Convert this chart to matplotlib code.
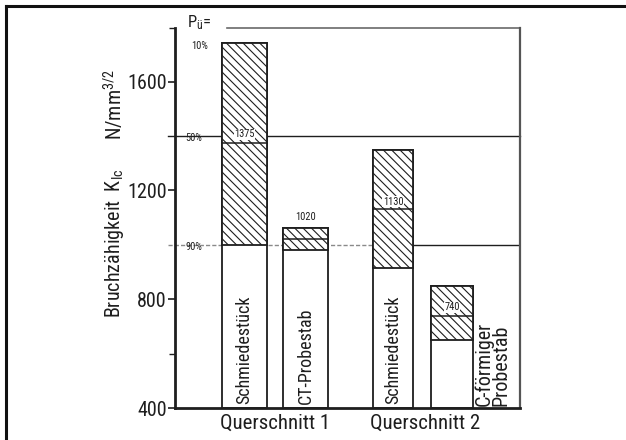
import numpy as np
import matplotlib
matplotlib.use("Agg")
import matplotlib.pyplot as plt
from matplotlib import font_manager
from matplotlib.lines import Line2D

# data (K_Ic in N/mm^3/2)
bar_names = ["Schmiedestück", "CT-Probestab", "Schmiedestück", "C-förmiger\nProbestab"]
x_pos = [2.01, 3.78, 6.32, 8.03]
widths = [1.30, 1.30, 1.16, 1.22]
k_90 = [1000, 980, 915, 650]    # lower end of the hatched band
k_50 = [1375, 1020, 1130, 740]  # divider / printed value
k_10 = [1740, 1060, 1350, 850]  # bar top
median_labels = ["1375", "1020", "1130", "740"]
group_names = ["Querschnitt 1", "Querschnitt 2"]
group_x = [2.9, 7.25]
pct_levels = [1740, 1400, 1000]
pct_labels = ["10%", "50%", "90%"]

names = {f.name for f in font_manager.fontManager.ttflist}
fam = "DejaVu Sans"
for cand in ["Liberation Sans Narrow", "DejaVu Sans Condensed", "Roboto Condensed", "Liberation Sans"]:
    if cand in names:
        fam = cand
        break
plt.rcParams["font.family"] = [fam, "DejaVu Sans"]
plt.rcParams["hatch.linewidth"] = 0.8
plt.rcParams["mathtext.fontset"] = "custom"
plt.rcParams["mathtext.rm"] = fam
plt.rcParams["mathtext.it"] = fam

ink = "#1e1e1e"

fig = plt.figure(figsize=(6.26, 4.40), dpi=100)
ax = fig.add_axes([175 / 626, 1 - 408 / 440, 345 / 626, 379.5 / 440])
ax.set_xlim(0, 10)
ax.set_ylim(400, 1795)

# outer frame (only top and left edges visible)
fig.add_artist(Line2D([6 / 626, 1], [1 - 6.5 / 440, 1 - 6.5 / 440], color="#111111", lw=2.2, transform=fig.transFigure))
fig.add_artist(Line2D([6 / 626, 6 / 626], [0, 1 - 6.5 / 440], color="#111111", lw=2.2, transform=fig.transFigure))

# probability lines
ax.plot([-0.2, 10], [1400, 1400], color=ink, lw=1.0, zorder=1, clip_on=False)
ax.plot([-0.2, 6.3], [1000, 1000], color="#8a8a8a", lw=1.0, ls=(0, (3, 1.5)), zorder=1, clip_on=False)
ax.plot([6.3, 10], [1000, 1000], color=ink, lw=1.0, zorder=1)
ax.plot([1.5, 10], [1795, 1795], color="#6a6a6a", lw=1.2, zorder=1, clip_on=False)

for i in range(len(x_pos)):
    ax.bar(x_pos[i], k_10[i] - 400, bottom=400, width=widths[i], color="white",
           edgecolor=ink, lw=1.3, zorder=2)
    ax.bar(x_pos[i], k_10[i] - k_90[i], bottom=k_90[i], width=widths[i], color="white",
           edgecolor=ink, hatch="\\\\\\\\", lw=1.3, zorder=3)
    ax.plot([x_pos[i] - widths[i] / 2, x_pos[i] + widths[i] / 2], [k_50[i], k_50[i]],
            color=ink, lw=1.1, zorder=4)

# value labels
lab_kw = dict(fontsize=7.5, ha="center", va="bottom", color=ink, zorder=5)
box = dict(fc="white", ec="none", pad=0.4)
ax.text(x_pos[0], k_50[0] + 12, median_labels[0], bbox=box, **lab_kw)
ax.text(x_pos[1], k_10[1] + 22, median_labels[1], **lab_kw)
ax.text(x_pos[2], k_50[2] + 10, median_labels[2], bbox=box, **lab_kw)
ax.text(x_pos[3], k_50[3] + 12, median_labels[3], bbox=box, **lab_kw)

# names inside / beside bars
for i in range(3):
    ax.text(x_pos[i], 416, bar_names[i], rotation=90, fontsize=13, ha="center", va="bottom",
            color=ink, zorder=5)
ax.text(9.2, 408, bar_names[3], rotation=90, fontsize=14.5, ha="center", va="bottom",
        color=ink, zorder=5, linespacing=0.9, multialignment="left")

# spines and ticks
ax.spines["top"].set_visible(False)
ax.spines["left"].set_linewidth(2.0)
ax.spines["bottom"].set_linewidth(2.0)
ax.spines["right"].set_linewidth(1.6)
ax.spines["left"].set_color(ink)
ax.spines["bottom"].set_color(ink)
ax.spines["right"].set_color("#555555")
ax.set_yticks([400, 800, 1200, 1600])
ax.set_yticks([600, 1795], minor=True)
ax.tick_params(axis="y", which="major", direction="out", length=5, width=1.2, labelsize=14.5,
               pad=1, colors=ink)
ax.tick_params(axis="y", which="minor", direction="out", length=4, width=1.0, colors=ink)
ax.set_xticks([])

for lev, lab in zip(pct_levels, pct_labels):
    xx = 0.72 if lab == "10%" else 0.55
    ax.text(xx, lev - 8, lab, fontsize=7.5, ha="center", va="center", color=ink, zorder=5)
ax.text(0.35, 1818, "P$_ü$=", fontsize=12, ha="left", va="center", color=ink, clip_on=False)

for gx, gn in zip(group_x, group_names):
    ax.text(gx, 378, gn, fontsize=15, ha="center", va="top", color=ink, clip_on=False)

fig.text(114 / 626, 1 - 243 / 440, "Bruchzähigkeit  K$_{Ic}$", rotation=90, fontsize=14.5,
         ha="center", va="center", color=ink)
fig.text(114 / 626, 1 - 105 / 440, "N/mm$^{3/2}$", rotation=90, fontsize=14.5,
         ha="center", va="center", color=ink)

fig.savefig("out.png", dpi=100)
